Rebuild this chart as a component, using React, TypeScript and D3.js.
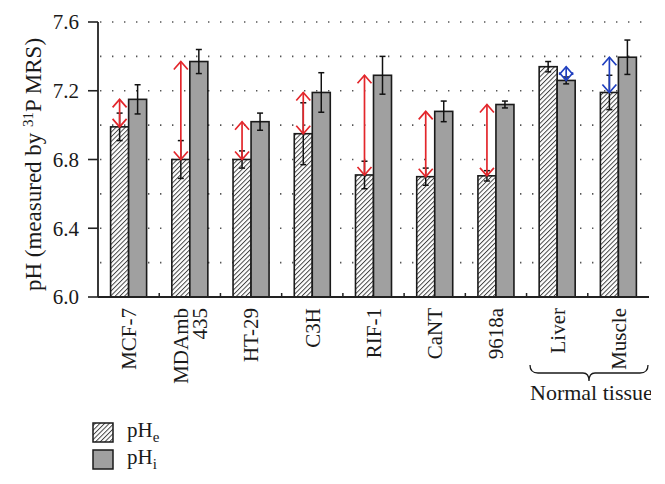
import React from "react";
import * as d3 from "d3";

const categories = ["MCF-7", "MDAmb|435", "HT-29", "C3H", "RIF-1", "CaNT", "9618a", "Liver", "Muscle"];
const tissueType = ["tumor", "tumor", "tumor", "tumor", "tumor", "tumor", "tumor", "normal", "normal"];
const pHe = [6.99, 6.8, 6.8, 6.95, 6.71, 6.7, 6.705, 7.34, 7.19];
const pHeErr = [0.08, 0.11, 0.05, 0.18, 0.08, 0.05, 0.03, 0.03, 0.1];
const pHi = [7.15, 7.37, 7.02, 7.19, 7.29, 7.08, 7.12, 7.26, 7.395];
const pHiErr = [0.085, 0.07, 0.05, 0.115, 0.11, 0.06, 0.02, 0.02, 0.1];
const yTicks = [6.0, 6.4, 6.8, 7.2, 7.6];
const gridValues = [6.2, 6.4, 6.6, 6.8, 7.0, 7.2, 7.4, 7.6];
const seriesKeys = ["pHe", "pHi"];

const W = 665;
const H = 484;
const left = 98;
const right = 649;
const top = 22;
const bottom = 297;
const serif = "'Liberation Serif', 'Times New Roman', serif";

export default function App() {
  const x = d3.scaleBand<string>().domain(categories).range([left, right]).paddingInner(0).paddingOuter(0);
  const xs = d3.scaleBand<string>().domain(seriesKeys).range([0, x.bandwidth()]).paddingInner(0).paddingOuter(0.7);
  const y = d3.scaleLinear().domain([6.0, 7.6]).range([bottom, top]);
  const bw = xs.bandwidth();
  const red = "#e3262b";
  const blue = "#1f3fbf";

  const brace = (x0: number, x1: number, y0: number, h: number) => {
    const mid = (x0 + x1) / 2;
    const yl = y0 + h * 0.5;
    const yt = y0 + h;
    return `M${x0},${y0} Q${x0},${yl} ${x0 + 8},${yl} L${mid - 6},${yl} Q${mid},${yl} ${mid},${yt} Q${mid},${yl} ${mid + 6},${yl} L${x1 - 8},${yl} Q${x1},${yl} ${x1},${y0}`;
  };

  return (
    <svg width={W} height={H} style={{ position: "absolute", left: 0, top: 0, background: "#fff" }} fontFamily={serif}>
      <defs>
        <pattern id="hatch" width={3.3} height={3.3} patternUnits="userSpaceOnUse" patternTransform="rotate(45)">
          <rect width={3.3} height={3.3} fill="#fff" />
          <line x1={0.5} y1={0} x2={0.5} y2={3.3} stroke="#333" strokeWidth={0.9} />
        </pattern>
        <clipPath id="crop">
          <rect x={0} y={0} width={651} height={H} />
        </clipPath>
      </defs>
      <g clipPath="url(#crop)">
        {/* dotted gridlines */}
        {gridValues.map((v) => (
          <line key={v} x1={left + 2} x2={656} y1={y(v)} y2={y(v)} stroke="#555" strokeWidth={1.6} strokeDasharray="1.4 10.6" />
        ))}
        {/* bars */}
        {categories.map((c, i) => {
          const gx = x(c)!;
          const xe = gx + xs("pHe")!;
          const xi = gx + xs("pHi")!;
          return (
            <g key={c}>
              <rect x={xe} y={y(pHe[i])} width={bw} height={bottom - y(pHe[i])} fill="url(#hatch)" stroke="#1a1a1a" strokeWidth={1.6} />
              <rect x={xi} y={y(pHi[i])} width={bw} height={bottom - y(pHi[i])} fill="#a0a0a0" stroke="#1a1a1a" strokeWidth={1.6} />
            </g>
          );
        })}
        {/* error bars */}
        {categories.map((c, i) => {
          const gx = x(c)!;
          const items = [
            { cx: gx + xs("pHe")! + bw / 2, v: pHe[i], e: pHeErr[i] },
            { cx: gx + xs("pHi")! + bw / 2, v: pHi[i], e: pHiErr[i] },
          ];
          return (
            <g key={c} stroke="#111" strokeWidth={1.5}>
              {items.map((it, k) => (
                <g key={k}>
                  <line x1={it.cx} x2={it.cx} y1={y(it.v + it.e)} y2={y(it.v - it.e)} />
                  <line x1={it.cx - 3} x2={it.cx + 3} y1={y(it.v + it.e)} y2={y(it.v + it.e)} />
                  <line x1={it.cx - 3} x2={it.cx + 3} y1={y(it.v - it.e)} y2={y(it.v - it.e)} />
                </g>
              ))}
            </g>
          );
        })}
        {/* difference arrows */}
        {categories.map((c, i) => {
          const gx = x(c)!;
          const lowKey = pHe[i] <= pHi[i] ? "pHe" : "pHi";
          const cx = gx + xs(lowKey)! + bw / 2;
          const yTop = y(Math.max(pHe[i], pHi[i]));
          const yBot = y(Math.min(pHe[i], pHi[i]));
          const col = tissueType[i] === "normal" ? blue : red;
          const hw = 7;
          const hh = 8;
          return (
            <g key={c} stroke={col} strokeWidth={1.7} fill="none">
              <line x1={cx} x2={cx} y1={yTop} y2={yBot} />
              <polyline points={`${cx - hw},${yTop + hh} ${cx},${yTop} ${cx + hw},${yTop + hh}`} />
              <polyline points={`${cx - hw},${yBot - hh} ${cx},${yBot} ${cx + hw},${yBot - hh}`} />
            </g>
          );
        })}
        {/* axes */}
        <line x1={left} x2={left} y1={top} y2={bottom} stroke="#222" strokeWidth={1.8} />
        <line x1={left} x2={right} y1={bottom} y2={bottom} stroke="#222" strokeWidth={1.8} />
        {yTicks.map((v) => (
          <g key={v}>
            <line x1={left - 10} x2={left} y1={y(v)} y2={y(v)} stroke="#222" strokeWidth={1.6} />
            <text x={79} y={y(v)} dy="0.35em" textAnchor="end" fontSize={21} fill="#1a1a1a">
              {v.toFixed(1)}
            </text>
          </g>
        ))}
        {categories.slice(1).map((c) => (
          <line key={c} x1={x(c)!} x2={x(c)!} y1={bottom} y2={bottom - 4} stroke="#222" strokeWidth={1.5} />
        ))}
        {/* category labels */}
        {categories.map((c) => {
          const cx = x(c)! + x.bandwidth() / 2;
          const lines = c.split("|");
          const lh = 19;
          return (
            <g key={c}>
              {lines.map((ln, k) => (
                <text
                  key={k}
                  transform={`translate(${cx + (k - (lines.length - 1) / 2) * lh},308) rotate(-90)`}
                  dy="0.35em"
                  textAnchor="end"
                  fontSize={21}
                  fill="#1a1a1a"
                >
                  {ln}
                </text>
              ))}
            </g>
          );
        })}
        {/* normal tissue brace */}
        <path d={brace(530, 648, 365, 16)} fill="none" stroke="#1a1a1a" strokeWidth={1.3} />
        <text x={530} y={400} fontSize={22} fill="#1a1a1a">
          Normal tissue
        </text>
        {/* y title */}
        <text transform={`translate(41,${(32 + 297) / 2}) rotate(-90)`} textAnchor="middle" fontSize={23} fill="#1a1a1a">
          pH (measured by <tspan fontSize={15} dy={-8}>31</tspan>
          <tspan dy={8}>P MRS)</tspan>
        </text>
        {/* legend */}
        <rect x={93} y={423} width={20} height={19} fill="url(#hatch)" stroke="#1a1a1a" strokeWidth={1.5} />
        <rect x={93} y={450} width={20} height={19} fill="#a0a0a0" stroke="#1a1a1a" strokeWidth={1.5} />
        <text x={127} y={437} fontSize={21} fill="#1a1a1a">
          pH<tspan fontSize={15} dy={5}>e</tspan>
        </text>
        <text x={127} y={464} fontSize={21} fill="#1a1a1a">
          pH<tspan fontSize={15} dy={5}>i</tspan>
        </text>
      </g>
    </svg>
  );
}
